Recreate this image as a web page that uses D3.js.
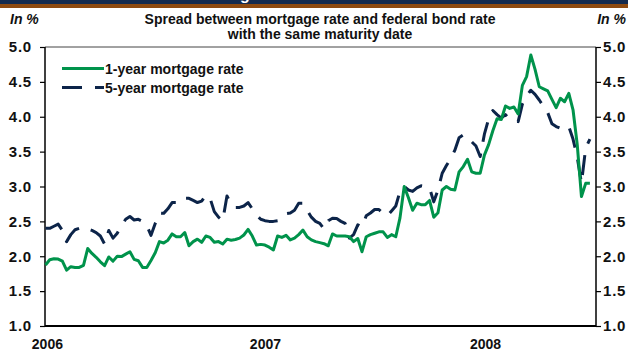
<!DOCTYPE html>
<html>
<head>
<meta charset="utf-8">
<script src="https://cdn.jsdelivr.net/npm/d3@7"></script>
<style>
  html, body { margin: 0; padding: 0; background: #fff; overflow: hidden; }
  svg { display: block; font-family: "Liberation Sans", Arial, sans-serif; }
</style>
</head>
<body>
<svg id="chart" width="628" height="352"></svg>
<script>
// Weekly observations, first week starting Monday 2 January 2006
const firstWeek = "2006-01-02";

// Spread (percentage points) of the 1-year mortgage rate over the federal bond rate
const oneYearSpread = [
  1.875, 1.95, 1.965, 1.96, 1.93, 1.80, 1.85, 1.84, 1.84, 1.87,
  2.11, 2.04, 1.985, 1.92, 1.865, 1.99, 1.93, 2.00, 1.995, 2.03,
  2.065, 1.955, 1.935, 1.84, 1.84, 1.94, 2.05, 2.21, 2.19, 2.23,
  2.32, 2.28, 2.28, 2.34, 2.15, 2.21, 2.245, 2.20, 2.29, 2.27,
  2.20, 2.21, 2.175, 2.245, 2.23, 2.24, 2.26, 2.305, 2.385, 2.29,
  2.16, 2.17, 2.16, 2.13, 2.09, 2.29, 2.27, 2.30, 2.235, 2.26,
  2.31, 2.375, 2.28, 2.235, 2.21, 2.195, 2.18, 2.15, 2.32, 2.29,
  2.29, 2.29, 2.28, 2.21, 2.255, 2.065, 2.28, 2.31, 2.33, 2.35,
  2.35, 2.27, 2.31, 2.28, 2.55, 3.00, 2.84, 2.66, 2.76, 2.74,
  2.74, 2.80, 2.56, 2.625, 2.95, 3.00, 2.96, 2.95, 3.21, 3.285,
  3.39, 3.21, 3.19, 3.19, 3.45, 3.60, 3.80, 3.97, 3.96, 4.155,
  4.12, 4.14, 4.04, 4.45, 4.575, 4.885, 4.68, 4.43, 4.40, 4.37,
  4.25, 4.13, 4.265, 4.215, 4.335, 4.10, 3.60, 2.855, 3.045, 3.045
];

// Spread of the 5-year mortgage rate over the federal bond rate
const fiveYearSpread = [
  2.40, 2.40, 2.43, 2.46, 2.37, 2.21, 2.31, 2.38, 2.40, 2.41,
  2.39, 2.37, 2.34, 2.29, 2.175, 2.37, 2.26, 2.33, 2.44, 2.53,
  2.57, 2.52, 2.53, 2.50, 2.44, 2.30, 2.47, 2.62, 2.615, 2.68,
  2.77, 2.77, 2.77, 2.83, 2.83, 2.80, 2.77, 2.79, 2.875, 2.83,
  2.64, 2.56, 2.51, 2.865, 2.74, 2.70, 2.70, 2.72, 2.77, 2.68,
  2.59, 2.53, 2.51, 2.50, 2.50, 2.51, 2.56, 2.61, 2.62, 2.66,
  2.76, 2.76, 2.66, 2.56, 2.50, 2.47, 2.39, 2.51, 2.545, 2.54,
  2.50, 2.47, 2.26, 2.31, 2.45, 2.42, 2.58, 2.62, 2.67, 2.67,
  2.61, 2.58, 2.65, 2.72, 2.93, 3.00, 2.95, 2.93, 2.98, 3.01,
  3.00, 2.98, 2.78, 2.95, 3.19, 3.30, 3.40, 3.52, 3.70, 3.74,
  3.70, 3.64, 3.58, 3.43, 3.75, 3.97, 4.09, 4.03, 3.98, 4.03,
  3.96, 3.94, 3.93, 4.18, 4.30, 4.38, 4.32, 4.24, 4.15, 4.06,
  3.90, 3.86, 3.835, 3.83, 3.86, 3.68, 3.42, 3.05, 3.55, 3.68
];

const seriesNames = ["1-year mortgage rate", "5-year mortgage rate"];
const yTickValues = [1.0, 1.5, 2.0, 2.5, 3.0, 3.5, 4.0, 4.5, 5.0];
const yearLabels = ["2006", "2007", "2008"];
const titleLines = ["Spread between mortgage rate and federal bond rate",
                    "with the same maturity date"];
const unitLabel = "In %";

const GREEN = "#00934b";
const NAVY = "#0c2449";

const svg = d3.select("#chart");
const W = 628;

// header band
svg.append("rect").attr("x", 0).attr("y", 0).attr("width", W).attr("height", 4)
  .attr("fill", "#132a4e");
svg.append("rect").attr("x", 0).attr("y", 4).attr("width", W).attr("height", 4)
  .attr("fill", "#8d4a10");
svg.append("text").attr("x", 245).attr("y", -0.5).attr("text-anchor", "middle")
  .attr("fill", "#fff").attr("font-weight", "bold").attr("font-size", 16).text("g");

const plotLeft = 45, plotRight = 596, plotTop = 47, plotBottom = 326;
const parse = d3.timeParse("%Y-%m-%d");
const start = parse(firstWeek);
const dates = oneYearSpread.map((_, i) => d3.timeDay.offset(start, 7 * i));

const x = d3.scaleTime()
  .domain([start, dates[dates.length - 1]])
  .range([45.5, 589.9]);
const y = d3.scaleLinear().domain([1, 5]).range([plotBottom, plotTop]);

// titles
svg.selectAll("text.title").data(titleLines).join("text")
  .attr("class", "title")
  .attr("x", 320).attr("y", (d, i) => 24 + i * 15)
  .attr("text-anchor", "middle").attr("font-weight", "bold")
  .attr("font-size", 14).attr("fill", "#111").text(d => d);

svg.append("text").attr("x", 10).attr("y", 24)
  .attr("font-weight", "bold").attr("font-style", "italic")
  .attr("font-size", 14).attr("fill", "#111").text(unitLabel);
svg.append("text").attr("x", 626).attr("y", 24).attr("text-anchor", "end")
  .attr("font-weight", "bold").attr("font-style", "italic")
  .attr("font-size", 14).attr("fill", "#111").text(unitLabel);

// frame: thin top border
svg.append("line").attr("x1", plotLeft).attr("x2", plotRight)
  .attr("y1", plotTop).attr("y2", plotTop)
  .attr("stroke", "#444").attr("stroke-width", 1);

// y axes
const fmt = d3.format(".1f");
const yl = svg.append("g").attr("transform", `translate(${plotLeft},0)`)
  .call(d3.axisLeft(y).tickValues(yTickValues).tickFormat(fmt).tickSize(5).tickPadding(8));
const yr = svg.append("g").attr("transform", `translate(${plotRight},0)`)
  .call(d3.axisRight(y).tickValues(yTickValues).tickFormat(fmt).tickSize(5).tickPadding(2));
[yl, yr].forEach(g => {
  g.select(".domain").attr("d", `M0,${plotTop}V${plotBottom}`)
    .attr("stroke", "#000").attr("stroke-width", 1.5);
  g.selectAll(".tick line").attr("stroke", "#000").attr("stroke-width", 1.2);
  g.selectAll(".tick text").attr("font-size", 15).attr("font-weight", "bold")
    .attr("letter-spacing", 0.8)
    .attr("fill", "#111").attr("font-family", "Liberation Sans, Arial, sans-serif");
});

// x axis (year labels, no ticks)
const yearDates = yearLabels.map(s => parse(s + "-01-01"));
const xa = svg.append("g").attr("transform", `translate(0,${plotBottom})`)
  .call(d3.axisBottom(x).tickValues(yearDates).tickFormat(d3.timeFormat("%Y"))
    .tickSize(0).tickPadding(14));
xa.select(".domain").attr("d", `M${plotLeft},0H${plotRight}`)
  .attr("stroke", "#000").attr("stroke-width", 2);
xa.selectAll(".tick text").attr("font-size", 14).attr("font-weight", "bold")
  .attr("dy", "0.66em")
  .attr("fill", "#111").attr("font-family", "Liberation Sans, Arial, sans-serif");
xa.selectAll(".tick").filter((d, i) => i === 0).select("text").attr("dx", 2);

// lines
const line = d3.line().x((d, i) => x(dates[i])).y(d => y(d));
svg.append("path").datum(fiveYearSpread).attr("d", line)
  .attr("fill", "none").attr("stroke", NAVY).attr("stroke-width", 3)
  .attr("stroke-dasharray", "20,12").attr("stroke-linejoin", "round");
svg.append("path").datum(oneYearSpread).attr("d", line)
  .attr("fill", "none").attr("stroke", GREEN).attr("stroke-width", 3)
  .attr("stroke-linejoin", "round");

// legend
const legend = svg.append("g");
const items = [
  { name: seriesNames[0], color: GREEN, dash: null, y: 68.5 },
  { name: seriesNames[1], color: NAVY, dash: "20,13", y: 87.5 }
];
items.forEach(it => {
  legend.append("line").attr("x1", 62).attr("x2", 104).attr("y1", it.y).attr("y2", it.y)
    .attr("stroke", it.color).attr("stroke-width", 3)
    .attr("stroke-dasharray", it.dash);
  legend.append("text").attr("x", 105).attr("y", it.y + 5)
    .attr("font-size", 14).attr("font-weight", "bold").attr("fill", "#111").text(it.name);
});
</script>
</body>
</html>
